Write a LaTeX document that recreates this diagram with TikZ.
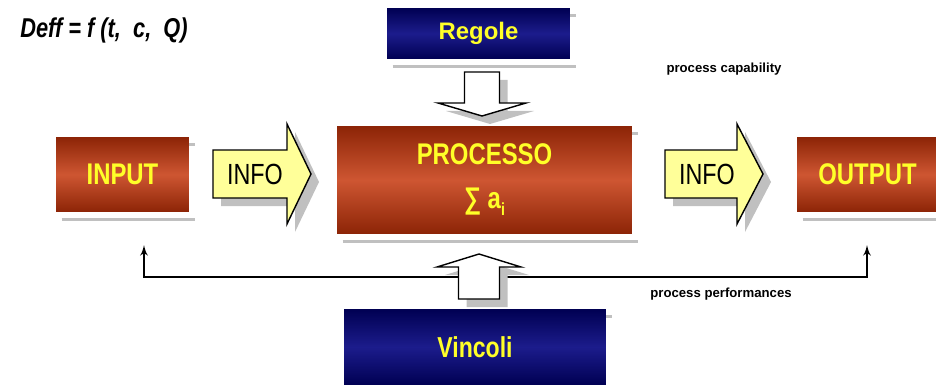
\documentclass[tikz,border=0pt]{standalone}
\usepackage{fontspec}
\setmainfont{Liberation Sans}
\newfontfamily\narrowfont[FakeStretch=0.8]{Liberation Sans}
\usetikzlibrary{arrows, calc}
\definecolor{boxred}{RGB}{140,36,6}
\definecolor{boxredlight}{RGB}{206,86,50}
\definecolor{boxblue}{RGB}{0,0,82}
\definecolor{boxbluelight}{RGB}{28,28,140}
\definecolor{labelyellow}{RGB}{255,255,40}
\definecolor{infoyellow}{RGB}{255,255,153}
\definecolor{shadowgray}{RGB}{192,192,192}
\tikzset{
x=0.02cm, y=-0.02cm, % one unit is one pixel of the slide, y going down
>=latex', % small filled tips for the feedback line
redbox/.style={top color=boxred, bottom color=boxred, middle color=boxredlight, text=labelyellow, inner sep=0pt, font=\narrowfont\bfseries\fontsize{17}{20}\selectfont}, % input, processo, output
bluebox/.style={top color=boxblue, bottom color=boxblue, middle color=boxbluelight, text=labelyellow, inner sep=0pt}, % regole, vincoli
shadowline/.style={draw=shadowgray, line width=1.7pt}, % grey lines under the boxes
blockarrow/.style={draw=black, line width=0.8pt}, % outline of the fat arrows
feedback/.style={<->, line width=1.1pt},
note/.style={font=\bfseries\fontsize{7.5}{9}\selectfont},
}
% outline of a fat arrow pointing along x: length, shaft half width, head half width, head length
\newcommand{\arrowoutline}[4]{(0,-#2) -- (#1-#4,-#2) -- (#1-#4,-#3) -- (#1,0) -- (#1-#4,#3) -- (#1-#4,#2) -- (0,#2) -- cycle}
% fat arrow with its shadow: [fill]{tail}{angle}{length}{shaft}{head}{head length}
\newcommand{\blockarrow}[7][white]{%
  \fill[shadowgray, shift={(8,8)}, shift={(#2)}, rotate=#3] \arrowoutline{#4}{#5}{#6}{#7};
  \filldraw[blockarrow, fill=#1, shift={(#2)}, rotate=#3] \arrowoutline{#4}{#5}{#6}{#7};
}

\begin{document}
\begin{tikzpicture}
\useasboundingbox (0,0) rectangle (936,385);

\node[font=\narrowfont\bfseries\itshape\fontsize{15.5}{18}\selectfont] (deff) at (104,30) {Deff = f (t,\ \ c,\ \ Q)};

\node[bluebox, minimum width=3.66cm, minimum height=1.02cm, font=\bfseries\fontsize{13.6}{16}\selectfont] (regole) at (478.5,33.5) {Regole};
\node[redbox, minimum width=5.9cm, minimum height=2.16cm, align=center] (processo) at (484.5,180) {PROCESSO\\[5pt]∑ a\raisebox{-0.45ex}{\fontsize{10}{10}\selectfont i}};
\node[redbox, minimum width=2.66cm, minimum height=1.5cm] (input) at (122.5,174.5) {INPUT};
\node[redbox, minimum width=2.82cm, minimum height=1.5cm] (output) at (867.5,174.5) {OUTPUT};
\node[bluebox, minimum width=5.24cm, minimum height=1.52cm, font=\narrowfont\bfseries\fontsize{16.4}{19}\selectfont] (vincoli) at (475,347) {Vincoli};

% grey shadow under each box and a small stub at its right side
\foreach \b in {regole, processo, input, output, vincoli} {
  \draw[shadowline] ([shift={(6,7)}]\b.south west) -- ([shift={(6,7)}]\b.south east);
  \draw[shadowline] ([shift={(0,8)}]\b.north east) -- ++(6,0);
}

% feedback from the process to input and output
\coordinate (fbin) at (144,245);
\coordinate (fbout) at (867,245);
\draw[feedback] (fbin) -- ++(0,32) -| (fbout);

\blockarrow[infoyellow]{213,174}{0}{98}{24}{50}{24}
\blockarrow[infoyellow]{665,174}{0}{98}{24}{50}{26}
\blockarrow{482,72}{-90}{44}{17.5}{44}{13}
\blockarrow{479,299}{90}{45}{20.5}{42}{13}

\node[font=\narrowfont\fontsize{16.6}{19}\selectfont] (info1) at (255,174) {INFO};
\node[font=\narrowfont\fontsize{16.6}{19}\selectfont] (info2) at (707,174) {INFO};

\node[note] (capability) at (724,69) {process capability};
\node[note] (performances) at (721,294) {process performances};
\end{tikzpicture}
\end{document}
